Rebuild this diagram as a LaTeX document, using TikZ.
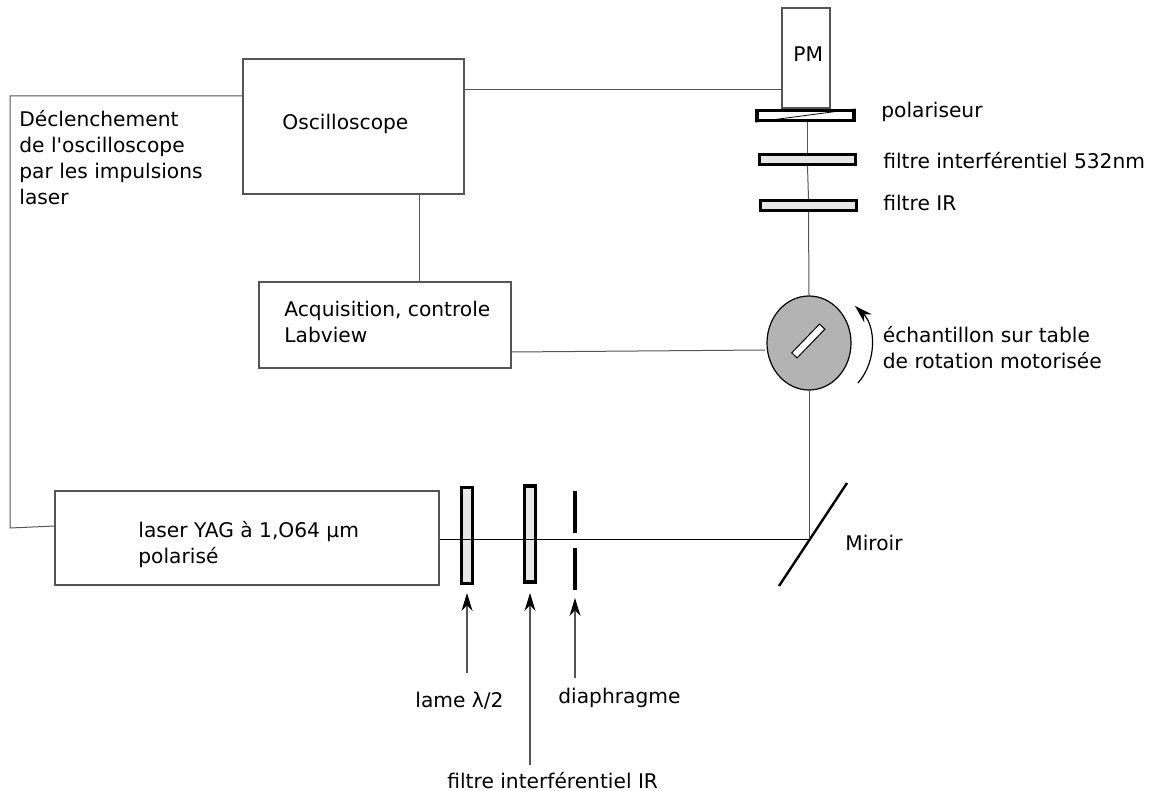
\documentclass[tikz,border=0pt]{standalone}
\usepackage{fontspec}
\setmainfont{DejaVu Sans}
\usetikzlibrary{arrows.meta,calc,shapes.geometric}
\definecolor{Line}{HTML}{555555}
\definecolor{Plate}{HTML}{E6E6E6}
\definecolor{Disc}{HTML}{B3B3B3}

\begin{document}
\begin{tikzpicture}[
 x=0.5pt,y=-0.5pt,
 b/.style={draw=Line,line width=0.55pt,fill=white,inner sep=0pt},
 p/.style={draw=black,line width=1.6pt,fill=Plate,inner sep=0pt,minimum width=48pt,minimum height=5pt},
 v/.style={draw=black,line width=1.6pt,fill=Plate,inner sep=0pt,minimum width=5.5pt,minimum height=48pt},
 t/.style={anchor=west,align=left,inner sep=0pt,font=\fontsize{10.1}{13}\selectfont},
 l/.style={draw=Line,line width=0.5pt},
 a/.style={-{Stealth[length=9pt,width=5.5pt,color=black]},draw=Line,line width=0.6pt}
]
\useasboundingbox (0,0) rectangle (1152,791);
\node[b,minimum width=110.5pt,minimum height=67.5pt] (osc) at (353.5,126.5) {};
\node[b,minimum width=126pt,minimum height=43pt] (acq) at (385,325) {};
\node[b,minimum width=192pt,minimum height=47pt] (yag) at (247,538) {};
\node[b,minimum width=24pt,minimum height=50pt] (pm) at (806,58) {};
\node[p,fill=white,minimum width=48.5pt] (pol) at (805.5,115.5) {};
\node[p] (f532) at (807.5,159.5) {};
\node[p] (fir) at (808.5,205.5) {};
\node[v] (lame) at (467,535.5) {};
\node[v] (firb) at (530,534) {};
\node[ellipse,draw=black,line width=0.6pt,fill=Disc,inner sep=0pt,minimum width=42pt,minimum height=47pt] (tab) at (809,343) {};
\node[draw=black,line width=0.5pt,fill=white,inner sep=0pt,minimum width=20pt,minimum height=3.7pt,rotate=46] (ech) at (808.3,341) {};
% polariseur
\draw[line width=0.4pt] (pol.south west) -- (pol.north east);
% trou du diaphragme
\coordinate (dh1) at (575,491);
\coordinate (dh2) at (575,533);
\coordinate (db1) at (575,548);
\coordinate (db2) at (575,590);
\draw[line width=1.6pt] (dh1)--(dh2);\draw[line width=1.6pt] (db1)--(db2);
% miroir
\coordinate (m1) at (779,586);
\coordinate (m2) at (847,483);
\coordinate (mc) at (809,539);
\draw[line width=1.2pt] (m1)--(m2);
% faisceau
\draw[l,draw=black] (yag.east |- mc)--(mc);
\draw[l] (mc)--(tab.south);\draw[l] (tab.north)--(fir.south);\draw[l] (fir.north)--(f532.south);\draw[l] (f532.north)--(pol.south -| f532.north);
% liaisons
\coordinate (pmin) at (782,90);
\coordinate (oscin) at (243,96);
\coordinate (yagin) at (55,526);
\coordinate (c1) at (10,96);
\coordinate (c2) at (10,528);
\coordinate (acqtop) at (419,282);
\coordinate (acqout) at (511,352);
\coordinate (tabin) at (765,350);
\draw[l] (osc.east |- pmin)--(pmin);
\draw[l] (oscin)--(c1)--(c2)--(yagin);
\draw[l] (acqtop |- osc.south)--(acqtop);
\draw[l] (acqout)--(tabin);
% fleches
\node[t] (lamet) at (415,700.5) {lame λ/2};
\node[t] (fibt) at (447,781) {filtre interférentiel IR};
\node[t] (diat) at (558,698) {diaphragme};
\coordinate (lamea) at (467,673);
\coordinate (lameb) at (467,593);
\coordinate (fiba) at (530,765);
\coordinate (fibb) at (530,593);
\coordinate (diaa) at (575,678);
\coordinate (diab) at (575,598);
\draw[a] (lamea)--(lameb);
\draw[a] (fiba)--(fibb);
\draw[a] (diaa)--(diab);
\coordinate (rot1) at (858,383);
\coordinate (rot2) at (855,306);
\draw[a,draw=black] (rot1) .. controls (878,360) and (875,325) .. (rot2);
% textes
\node[t] (osct) at (282,124) {Oscilloscope};
\node[t] (acqt) at (284,322) {Acquisition, controle\\Labview};
\node[t] (yagt) at (138,544.5) {laser YAG à 1,O64 µm\\polarisé};
\node[t] (pmt) at (793,54) {PM};
\node[t] (polt) at (881,112) {polariseur};
\node[t] (f532t) at (883,160.5) {filtre interférentiel 532nm};
\node[t] (firt) at (883,203) {filtre IR};
\node[t] (echt) at (882.5,347.5) {échantillon sur table\\de rotation motorisée};
\node[t] (mirt) at (845,543) {Miroir};
\node[t] (dect) at (19,157.5) {Déclenchement\\de l\textquotesingle oscilloscope\\par les impulsions\\laser};
\end{tikzpicture}
\end{document}
